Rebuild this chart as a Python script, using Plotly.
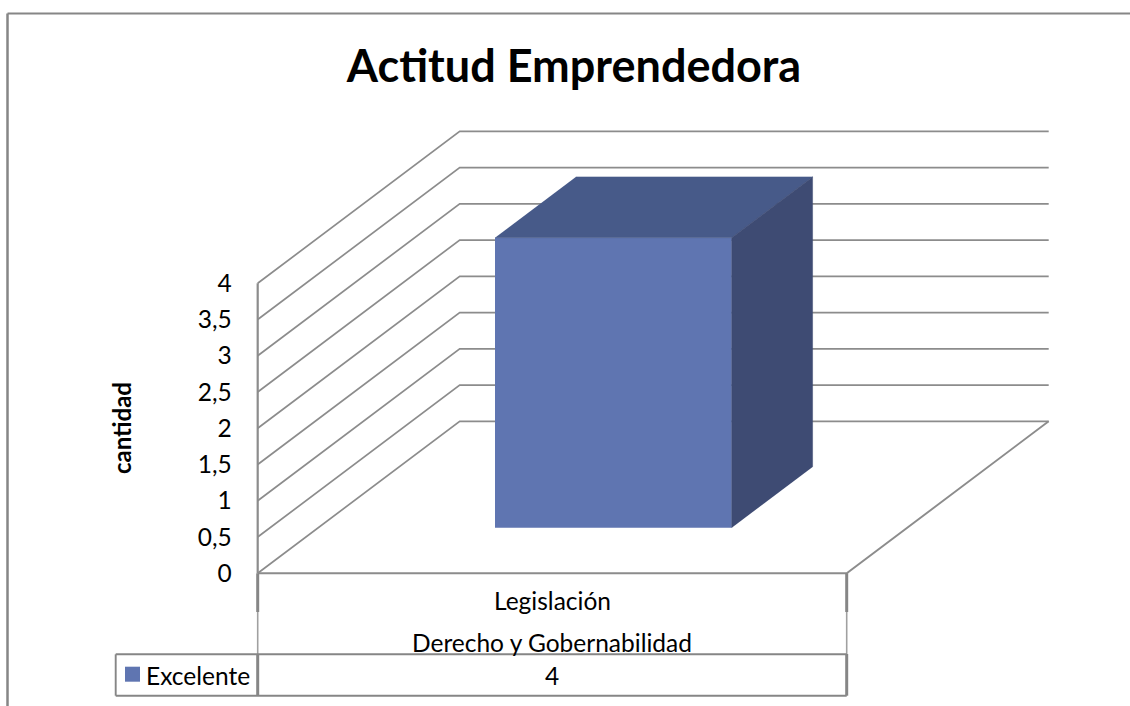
import plotly.graph_objects as go

# data
categories = ["Legislación"]
groups = ["Derecho y Gobernabilidad"]
series_name = "Excelente"
values = [4]
tick_values = [0, 0.5, 1, 1.5, 2, 2.5, 3, 3.5, 4]
tick_labels = ["0", "0,5", "1", "1,5", "2", "2,5", "3", "3,5", "4"]

W, H = 1130, 706
FONT = "Lato"
GRID = "#8c8c8c"
EDGE = "#868686"
FRONT = "#5f75b1"
TOP = "#475a89"
SIDE = "#3e4b73"

# fake 3d: x runs 0..1 over the front of the floor, y is in value units
X0, X1 = 257.7, 846.7
Y0, PX_PER_UNIT = 573.3, 72.5
DEPTH_X = 202 / (X1 - X0)
DEPTH_Y = 152 / PX_PER_UNIT
BAR_LEFT, BAR_RIGHT = 0.3, 0.702
BAR_FRONT, BAR_BACK = 0.3, 0.7


def project(x, v, d):
    """Category position, value and depth to the axes of the flat plot."""
    return x + d * DEPTH_X, v + d * DEPTH_Y


def poly(points):
    xs, ys = zip(*[project(*p) for p in points])
    return list(xs), list(ys)


def wall_line(points, width=1.7):
    # shapes, because plotly always draws bars under scatter traces
    xs, ys = poly(points)
    path = " ".join(("M" if i == 0 else "L") + f" {x} {y}" for i, (x, y) in enumerate(zip(xs, ys)))
    return dict(type="path", path=path, xref="x", yref="y", layer="below",
                line=dict(color=GRID, width=width))


def face_trace(points, color):
    xs, ys = poly(points)
    return go.Scatter(x=xs, y=ys, mode="lines", fill="toself", fillcolor=color,
                      line=dict(color=color, width=0.5), hoverinfo="skip", showlegend=False)


fig = go.Figure()

# the bar
for val in values:
    front_x, front_base = project((BAR_LEFT + BAR_RIGHT) / 2, 0, BAR_FRONT)
    fig.add_trace(go.Bar(x=[front_x], y=[val], base=[front_base],
                         width=[BAR_RIGHT - BAR_LEFT], name=series_name,
                         marker=dict(color=FRONT, line=dict(width=0)), showlegend=False))
    fig.add_trace(face_trace([(BAR_LEFT, val, BAR_FRONT), (BAR_RIGHT, val, BAR_FRONT),
                              (BAR_RIGHT, val, BAR_BACK), (BAR_LEFT, val, BAR_BACK)], TOP))
    fig.add_trace(face_trace([(BAR_RIGHT, 0, BAR_FRONT), (BAR_RIGHT, val, BAR_FRONT),
                              (BAR_RIGHT, val, BAR_BACK), (BAR_RIGHT, 0, BAR_BACK)], SIDE))


def seg(x0, y0, x1, y1, width=1.5, color=EDGE):
    return dict(type="line", xref="paper", yref="paper", x0=x0 / W, x1=x1 / W,
                y0=1 - y0 / H, y1=1 - y1 / H, line=dict(color=color, width=width))


# walls and floor
shapes = [wall_line([(0, v, 0), (0, v, 1), (1, v, 1)]) for v in tick_values]
shapes += [
    wall_line([(0, tick_values[0], 0), (0, tick_values[-1], 0)], 2.2),
    wall_line([(1, 0, 1), (1, 0, 0), (0, 0, 0)], 1.9),
    # chart frame
    seg(7.5, 13.5, W, 13.5, 2.2),
    seg(7.5, 13.5, 7.5, H, 2.5),
    # data table
    seg(X0, 573.3, X0, 612, 3),
    seg(X0, 612, X0, 654, 1.6, "#a0a0a0"),
    seg(X0, 654, X0, 695.7, 3),
    seg(X1, 573.3, X1, 612, 3),
    seg(X1, 612, X1, 654, 1.6, "#a0a0a0"),
    seg(X1, 654, X1, 695.7, 3),
    seg(115.7, 654.3, X1, 654.3, 1.9),
    seg(115.7, 695.7, X1, 695.7, 1.9),
    seg(115.7, 654.3, 115.7, 695.7, 1.9),
    # legend key
    dict(type="rect", xref="paper", yref="paper", x0=125 / W, x1=140 / W,
         y0=1 - 681.7 / H, y1=1 - 666.7 / H, fillcolor=FRONT, line=dict(width=0)),
]


def label(text, px, py, size=24.5, **kw):
    return dict(text=text, xref="paper", yref="paper", x=px / W, y=1 - py / H,
                xanchor="center", yanchor="middle", showarrow=False,
                font=dict(family=FONT, size=size, color="black"), **kw)


annotations = [
    label(categories[0], 552, 600),
    label(groups[0], 552, 642),
    label(str(values[0]), 552, 675),
    label(series_name, 198, 675),
    label("<b>cantidad</b>", 121, 428, size=24, textangle=-90),
]

fig.update_layout(
    width=W, height=H, autosize=False,
    margin=dict(l=0, r=0, t=0, b=0),
    paper_bgcolor="white", plot_bgcolor="white",
    showlegend=False,
    title=dict(text="<b>Actitud Emprendedora</b>", x=574 / W, y=1 - 66 / H,
               xanchor="center", yanchor="middle", xref="paper", yref="paper",
               font=dict(family=FONT, size=45, color="black")),
    shapes=shapes, annotations=annotations,
    xaxis=dict(range=[-X0 / (X1 - X0), (W - X0) / (X1 - X0)], visible=False, fixedrange=True),
    yaxis=dict(range=[(Y0 - H) / PX_PER_UNIT, Y0 / PX_PER_UNIT], anchor="free",
               position=X0 / W, side="left", showgrid=False, zeroline=False, showline=False,
               tickmode="array", tickvals=tick_values, ticktext=tick_labels,
               ticks="outside", ticklen=21, tickcolor="rgba(0,0,0,0)",
               tickfont=dict(family=FONT, size=24.5, color="black"), fixedrange=True),
)

# the page's default body margin would push the chart 8px in
fig.write_html("out.html", config=dict(displayModeBar=False),
               post_script="document.body.style.margin='0';document.body.style.overflow='hidden';")
